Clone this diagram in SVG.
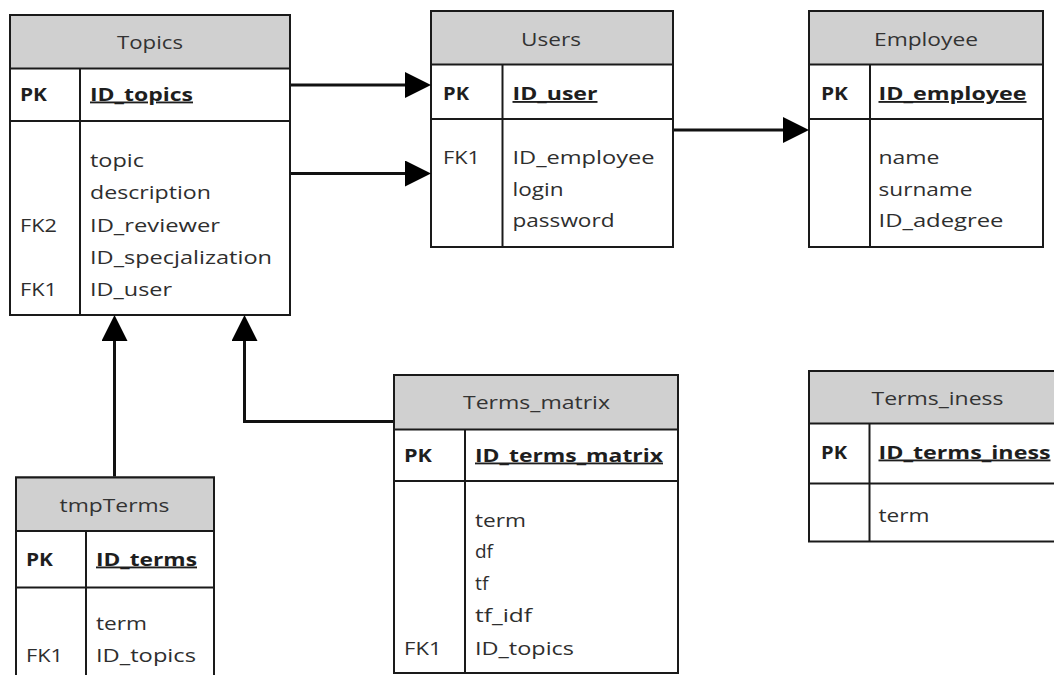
<svg xmlns="http://www.w3.org/2000/svg" width="1054" height="675" viewBox="0 0 1054 675">
  <style>
    .box { fill: #ffffff; stroke: #1a1a1a; stroke-width: 2; }
    .head { fill: #d0d0d0; stroke: #1a1a1a; stroke-width: 2; }
    .sep { stroke: #1a1a1a; stroke-width: 2; fill: none; }
    text { font-family: "Open Sans", "Liberation Sans", sans-serif; font-size: 18.5px; fill: #2e2e2e; }
    .title { text-anchor: middle; fill: #333333; }
    .key { font-weight: bold; fill: #1e1e1e; }
    .pk { font-weight: bold; fill: #1e1e1e; text-decoration: underline; }
    .link { stroke: #111111; stroke-width: 3; fill: none; marker-end: url(#arrow); }
  </style>
  <defs>
    <marker id="arrow" viewBox="0 0 26 26" refX="0" refY="13" markerWidth="26" markerHeight="26" markerUnits="userSpaceOnUse" orient="auto">
      <path d="M0,0 L26,13 L0,26 z" fill="#000000"/>
    </marker>
  </defs>
  <rect width="1054" height="675" fill="#ffffff"/>

  <!-- Topics -->
  <g id="topics">
    <rect class="box" x="10" y="15" width="280" height="300"/>
    <rect class="head" x="10" y="15" width="280" height="53.5"/>
    <line class="sep" x1="10" y1="121" x2="290" y2="121"/>
    <line class="sep" x1="80" y1="68.5" x2="80" y2="315"/>
    <text class="title" x="150" y="48.5" textLength="66" lengthAdjust="spacingAndGlyphs">Topics</text>
    <text class="key" x="20" y="100.5" textLength="27" lengthAdjust="spacingAndGlyphs">PK</text>
    <text class="pk" x="90" y="100.5" textLength="103" lengthAdjust="spacingAndGlyphs">ID_topics</text>
    <text x="90" y="167" textLength="54" lengthAdjust="spacingAndGlyphs">topic</text>
    <text x="90" y="199" textLength="121" lengthAdjust="spacingAndGlyphs">description</text>
    <text x="20" y="231.5" textLength="37" lengthAdjust="spacingAndGlyphs">FK2</text>
    <text x="90" y="231.5" textLength="130" lengthAdjust="spacingAndGlyphs">ID_reviewer</text>
    <text x="90" y="263.5" textLength="182" lengthAdjust="spacingAndGlyphs">ID_specjalization</text>
    <text x="20" y="296" textLength="37" lengthAdjust="spacingAndGlyphs">FK1</text>
    <text x="90" y="296" textLength="82" lengthAdjust="spacingAndGlyphs">ID_user</text>
  </g>

  <!-- Users -->
  <g id="users">
    <rect class="box" x="431" y="11" width="242" height="236"/>
    <rect class="head" x="431" y="11" width="242" height="53.5"/>
    <line class="sep" x1="431" y1="119" x2="673" y2="119"/>
    <line class="sep" x1="502.5" y1="64.5" x2="502.5" y2="247"/>
    <text class="title" x="551" y="46" textLength="60" lengthAdjust="spacingAndGlyphs">Users</text>
    <text class="key" x="443" y="100" textLength="26" lengthAdjust="spacingAndGlyphs">PK</text>
    <text class="pk" x="512.5" y="100" textLength="85" lengthAdjust="spacingAndGlyphs">ID_user</text>
    <text x="443" y="164" textLength="37" lengthAdjust="spacingAndGlyphs">FK1</text>
    <text x="512.5" y="164" textLength="142" lengthAdjust="spacingAndGlyphs">ID_employee</text>
    <text x="512.5" y="195.5" textLength="51" lengthAdjust="spacingAndGlyphs">login</text>
    <text x="512.5" y="227" textLength="102" lengthAdjust="spacingAndGlyphs">password</text>
  </g>

  <!-- Employee -->
  <g id="employee">
    <rect class="box" x="809" y="11" width="234" height="236"/>
    <rect class="head" x="809" y="11" width="234" height="53.5"/>
    <line class="sep" x1="809" y1="119" x2="1043" y2="119"/>
    <line class="sep" x1="870" y1="64.5" x2="870" y2="247"/>
    <text class="title" x="926" y="46" textLength="104" lengthAdjust="spacingAndGlyphs">Employee</text>
    <text class="key" x="821" y="100" textLength="27" lengthAdjust="spacingAndGlyphs">PK</text>
    <text class="pk" x="878.5" y="100" textLength="148" lengthAdjust="spacingAndGlyphs">ID_employee</text>
    <text x="878.5" y="164" textLength="61" lengthAdjust="spacingAndGlyphs">name</text>
    <text x="878.5" y="195.5" textLength="94" lengthAdjust="spacingAndGlyphs">surname</text>
    <text x="878.5" y="227" textLength="125" lengthAdjust="spacingAndGlyphs">ID_adegree</text>
  </g>

  <!-- Terms_matrix -->
  <g id="terms_matrix">
    <rect class="box" x="394" y="375" width="284" height="298"/>
    <rect class="head" x="394" y="375" width="284" height="54.5"/>
    <line class="sep" x1="394" y1="481" x2="678" y2="481"/>
    <line class="sep" x1="465" y1="429.5" x2="465" y2="673"/>
    <text class="title" x="536.5" y="408.5" textLength="147" lengthAdjust="spacingAndGlyphs">Terms_matrix</text>
    <text class="key" x="404" y="461.5" textLength="28" lengthAdjust="spacingAndGlyphs">PK</text>
    <text class="pk" x="475" y="461.5" textLength="188" lengthAdjust="spacingAndGlyphs">ID_terms_matrix</text>
    <text x="475" y="526.5" textLength="51" lengthAdjust="spacingAndGlyphs">term</text>
    <text x="475" y="558" textLength="18" lengthAdjust="spacingAndGlyphs">df</text>
    <text x="475" y="590" textLength="13.5" lengthAdjust="spacingAndGlyphs">tf</text>
    <text x="475" y="622" textLength="57" lengthAdjust="spacingAndGlyphs">tf_idf</text>
    <text x="404" y="654.5" textLength="37.5" lengthAdjust="spacingAndGlyphs">FK1</text>
    <text x="475" y="654.5" textLength="99" lengthAdjust="spacingAndGlyphs">ID_topics</text>
  </g>

  <!-- tmpTerms (runs past the bottom edge) -->
  <g id="tmpterms">
    <rect class="box" x="16" y="477.5" width="198" height="215"/>
    <rect class="head" x="16" y="477.5" width="198" height="53.5"/>
    <line class="sep" x1="16" y1="587.5" x2="214" y2="587.5"/>
    <line class="sep" x1="86" y1="531" x2="86" y2="692"/>
    <text class="title" x="114.5" y="511.5" textLength="110" lengthAdjust="spacingAndGlyphs">tmpTerms</text>
    <text class="key" x="26" y="565.5" textLength="27" lengthAdjust="spacingAndGlyphs">PK</text>
    <text class="pk" x="96" y="565.5" textLength="101" lengthAdjust="spacingAndGlyphs">ID_terms</text>
    <text x="96" y="630" textLength="51" lengthAdjust="spacingAndGlyphs">term</text>
    <text x="26" y="661.5" textLength="37" lengthAdjust="spacingAndGlyphs">FK1</text>
    <text x="96" y="661.5" textLength="100" lengthAdjust="spacingAndGlyphs">ID_topics</text>
  </g>

  <!-- Terms_iness (runs past the right edge) -->
  <g id="terms_iness">
    <rect class="box" x="809" y="371" width="257" height="170.5"/>
    <rect class="head" x="809" y="371" width="257" height="52.5"/>
    <line class="sep" x1="809" y1="483.5" x2="1066" y2="483.5"/>
    <line class="sep" x1="869.5" y1="423.5" x2="869.5" y2="541.5"/>
    <text class="title" x="937.5" y="405" textLength="132" lengthAdjust="spacingAndGlyphs">Terms_iness</text>
    <text class="key" x="821" y="458.5" textLength="26" lengthAdjust="spacingAndGlyphs">PK</text>
    <text class="pk" x="878.5" y="458.5" textLength="172" lengthAdjust="spacingAndGlyphs">ID_terms_iness</text>
    <text x="878.5" y="521.5" textLength="51" lengthAdjust="spacingAndGlyphs">term</text>
  </g>

  <!-- Relationships -->
  <g id="connectors">
    <line class="link" x1="291" y1="85" x2="405" y2="85"/>
    <line class="link" x1="291" y1="173.5" x2="405" y2="173.5"/>
    <line class="link" x1="674" y1="130" x2="783" y2="130"/>
    <line class="link" x1="114.5" y1="476.5" x2="114.5" y2="341"/>
    <polyline class="link" points="393,421.5 244.5,421.5 244.5,341"/>
  </g>
</svg>
